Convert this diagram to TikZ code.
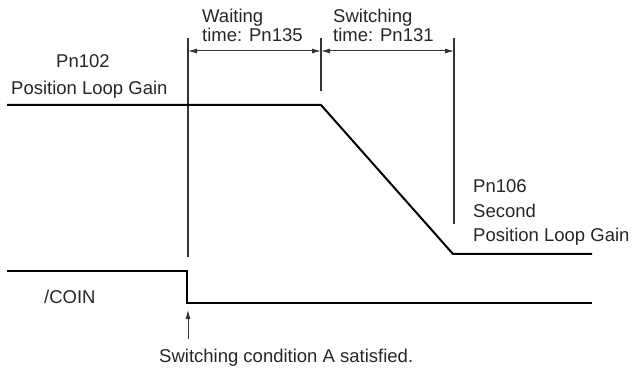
\documentclass[tikz,border=0pt]{standalone}
\usepackage{fontspec}
\setmainfont{Liberation Sans}
\usetikzlibrary{arrows.meta}
\begin{document}
\begin{tikzpicture}[x=1pt,y=-1pt,
  lbl/.style={anchor=base west,inner sep=0pt,font=\fontsize{18.5}{22}\selectfont,text=black!85},
  sig/.style={line width=2pt,line join=miter},
  guide/.style={line width=1.1pt,black!80},
  dimarr/.style={line width=1pt,black!80,{Latex[length=9pt,width=5pt]}-{Latex[length=9pt,width=5pt]}},
  uparr/.style={line width=1pt,black!80,-{Latex[length=9pt,width=5pt]}}]
\useasboundingbox (0,0) rectangle (637,371);
% guide lines
\coordinate (g1t) at (188,38); \coordinate (g1b) at (188,257);
\coordinate (g2t) at (321,38); \coordinate (g2b) at (321,91);
\coordinate (g3t) at (454,38); \coordinate (g3b) at (454,224);
\draw[guide] (g1t) -- (g1b);
\draw[guide] (g2t) -- (g2b);
\draw[guide] (g3t) -- (g3b);
% dimension arrows
\coordinate (d1) at (188,51); \coordinate (d2) at (321,51); \coordinate (d3) at (454,51);
\draw[dimarr] (d1) -- (d2);
\draw[dimarr] (d2) -- (d3);
% gain signal
\coordinate (a0) at (7,105); \coordinate (a1) at (321,105);
\coordinate (a2) at (453,254); \coordinate (a3) at (592,254);
\draw[sig] (a0) -- (a1) -- (a2) -- (a3);
% COIN signal
\coordinate (c0) at (7,271); \coordinate (c1) at (187,271);
\coordinate (c2) at (187,303); \coordinate (c3) at (592,303);
\draw[sig] (c0) -- (c1) -- (c2) -- (c3);
% condition arrow
\coordinate (u0) at (188,339); \coordinate (u1) at (188,310);
\draw[uparr] (u0) -- (u1);
% labels
\node[lbl] (w1) at (202,23) {Waiting};
\node[lbl] (w2) at (202,42) {time: Pn135};
\node[lbl] (s1) at (333,23) {Switching};
\node[lbl] (s2) at (333,42) {time: Pn131};
\node[lbl] (p1) at (56,68) {Pn102};
\node[lbl] (p2) at (11,95) {Position Loop Gain};
\node[lbl] (q1) at (473,193) {Pn106};
\node[lbl] (q2) at (473,218) {Second};
\node[lbl] (q3) at (473,242) {Position Loop Gain};
\node[lbl] (coin) at (44,304) {/COIN};
\node[lbl] (cond) at (159,362) {Switching condition A satisfied.};
\end{tikzpicture}
\end{document}
